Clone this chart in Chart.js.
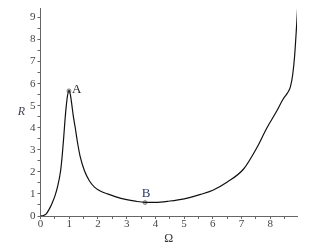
<!DOCTYPE html>
<html>
<head>
<meta charset="utf-8">
<script src="https://cdn.jsdelivr.net/npm/chart.js@4/dist/chart.umd.min.js"></script>
<style>
  html, body { margin: 0; padding: 0; background: #fff; }
  #wrap { width: 317px; height: 251px; }
</style>
</head>
<body>
<div id="wrap"><canvas id="chart"></canvas></div>
<script>
// curve R(Omega)
const omega = [0, 0.1, 0.2, 0.3, 0.4, 0.5, 0.59, 0.7, 0.76, 0.81, 0.85, 0.89, 0.94, 0.99, 1.04, 1.09, 1.14, 1.21, 1.28, 1.38, 1.53, 1.7, 1.88, 2.1, 2.34, 2.6, 3.0, 3.3, 3.64, 4.0, 4.5, 5.0, 5.57, 6.0, 6.49, 7.07, 7.53, 7.88, 8.2, 8.45, 8.6, 8.7, 8.78, 8.85, 8.91, 8.95, 8.98];
const rValues = [0, 0.02, 0.1, 0.3, 0.57, 0.9, 1.31, 2.05, 2.8, 3.6, 4.3, 4.9, 5.45, 5.7, 5.5, 5.05, 4.55, 4.0, 3.4, 2.7, 2.05, 1.6, 1.31, 1.12, 1.0, 0.88, 0.74, 0.67, 0.62, 0.62, 0.68, 0.78, 0.98, 1.17, 1.53, 2.13, 3.09, 3.99, 4.7, 5.3, 5.58, 5.85, 6.4, 7.3, 8.5, 9.4, 10.3];

// marked points
const pointNames = ['A', 'B'];
const pointOmega = [0.99, 3.64];
const pointR = [5.67, 0.61];

const xTicks = [0, 0.5, 1, 1.5, 2, 2.5, 3, 3.5, 4, 4.5, 5, 5.5, 6, 6.5, 7, 7.5, 8, 8.5];
const yTicks = [0, 0.5, 1, 1.5, 2, 2.5, 3, 3.5, 4, 4.5, 5, 5.5, 6, 6.5, 7, 7.5, 8, 8.5, 9];

const serif = '"Liberation Serif", "DejaVu Serif", serif';

const labelsPlugin = {
  id: 'labelsPlugin',
  afterDatasetsDraw(chart) {
    const {ctx, scales, chartArea} = chart;
    ctx.save();
    ctx.font = '13px ' + serif;
    pointNames.forEach((name, i) => {
      const px = scales.x.getPixelForValue(pointOmega[i]);
      const py = scales.y.getPixelForValue(pointR[i]);
      if (name == 'A') {
        ctx.fillStyle = '#222';
        ctx.textAlign = 'left';
        ctx.textBaseline = 'middle';
        ctx.fillText(name, px + 3, py - 1);
      } else {
        ctx.fillStyle = '#2b3a6b';
        ctx.textAlign = 'center';
        ctx.textBaseline = 'bottom';
        ctx.fillText(name, px + 1, py - 2);
      }
    });
    // y axis name, upright and italic
    ctx.font = 'italic 12px ' + serif;
    ctx.fillStyle = '#445';
    ctx.textAlign = 'center';
    ctx.textBaseline = 'middle';
    ctx.fillText('R', chartArea.left - 19, (chartArea.top + chartArea.bottom) / 2);
    ctx.restore();
  }
};

new Chart(document.getElementById('chart'), {
  type: 'scatter',
  data: {
    datasets: [{
      data: omega.map((x, i) => ({x: x, y: rValues[i]})),
      showLine: true,
      borderColor: '#111',
      borderWidth: 1.2,
      pointRadius: 0,
      cubicInterpolationMode: 'monotone'
    }, {
      data: pointOmega.map((x, i) => ({x: x, y: pointR[i]})),
      showLine: false,
      pointRadius: 2,
      pointBackgroundColor: '#bbb',
      pointBorderColor: '#777',
      pointBorderWidth: 0.8
    }]
  },
  options: {
    responsive: true,
    maintainAspectRatio: false,
    animation: false,
    layout: { padding: { top: 6, right: 20, left: 28, bottom: 6 } },
    plugins: { legend: { display: false }, tooltip: { enabled: false } },
    scales: {
      x: {
        type: 'linear',
        min: 0,
        max: 8.93,
        afterBuildTicks: s => { s.ticks = xTicks.map(v => ({value: v})); },
        grid: { drawOnChartArea: false, drawTicks: true, tickLength: 3, tickColor: '#666' },
        border: { color: '#666', width: 1 },
        ticks: {
          autoSkip: false,
          maxRotation: 0,
          padding: 0,
          color: '#444',
          font: { family: serif, size: 11, lineHeight: 1 },
          callback: v => Number.isInteger(v) ? String(v) : ''
        },
        title: { display: true, text: 'Ω', color: '#333', font: { family: serif, size: 12, lineHeight: 1 }, padding: { top: 3, bottom: 0 } }
      },
      y: {
        min: 0,
        max: 9.4,
        afterBuildTicks: s => { s.ticks = yTicks.map(v => ({value: v})); },
        grid: { drawOnChartArea: false, drawTicks: true, tickLength: 3, tickColor: '#666' },
        border: { color: '#666', width: 1 },
        ticks: {
          autoSkip: false,
          padding: 2,
          color: '#444',
          font: { family: serif, size: 11 },
          callback: v => Number.isInteger(v) ? String(v) : ''
        }
      }
    }
  },
  plugins: [labelsPlugin]
});
</script>
</body>
</html>
